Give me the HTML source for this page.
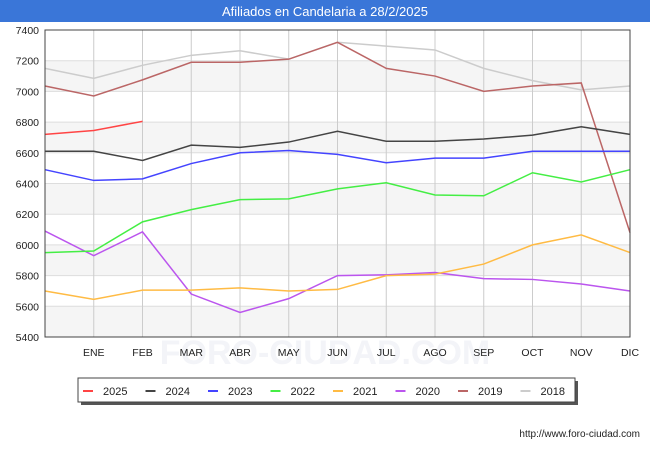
<!DOCTYPE html>
<html><head><meta charset="utf-8"><style>
body{margin:0;background:#fff;font-family:"Liberation Sans",sans-serif}
svg text{font-family:"Liberation Sans",sans-serif}
</style></head><body>
<svg width="650" height="450" id="chart">
<rect x="0" y="0" width="650" height="22" fill="#3a76d8"/>
<text x="325" y="16" text-anchor="middle" fill="#fff" font-size="13">Afiliados en Candelaria a 28/2/2025</text>
<g id="plot"></g>
<text x="640" y="437" text-anchor="end" font-size="10" fill="#222">http://www.foro-ciudad.com</text>
</svg>
<script>
const months=["","ENE","FEB","MAR","ABR","MAY","JUN","JUL","AGO","SEP","OCT","NOV","DIC"];
const yTicks=[5400,5600,5800,6000,6200,6400,6600,6800,7000,7200,7400];
const seriesNames=["2025","2024","2023","2022","2021","2020","2019","2018"];
const colors=["#ff4444","#444444","#4444ff","#44ee44","#ffbb44","#bb55ee","#bb6666","#cccccc"];
const s2025=[6720,6745,6805];
const s2024=[6610,6610,6550,6650,6635,6670,6740,6675,6675,6690,6715,6770,6720];
const s2023=[6490,6420,6430,6530,6600,6615,6590,6535,6565,6565,6610,6610,6610];
const s2022=[5950,5960,6150,6230,6295,6300,6365,6405,6325,6320,6470,6410,6490];
const s2021=[5700,5645,5705,5705,5720,5700,5710,5800,5810,5875,6000,6065,5950];
const s2020=[6090,5930,6085,5680,5560,5650,5800,5805,5820,5780,5775,5745,5700];
const s2019=[7035,6970,7075,7190,7190,7210,7320,7150,7100,7000,7035,7055,6080];
const s2018=[7150,7085,7170,7235,7265,7210,7320,7295,7270,7150,7070,7010,7035];
const allSeries=[s2025,s2024,s2023,s2022,s2021,s2020,s2019,s2018];
const X0=45,X1=630,Y0=30,Y1=337,yMin=5400,yMax=7400;
const x=i=>X0+i*(X1-X0)/12;
const y=v=>Y1-(v-yMin)/(yMax-yMin)*(Y1-Y0);
const NS="http://www.w3.org/2000/svg";
const g=document.getElementById('plot');
function mk(t,a){const e=document.createElementNS(NS,t);for(const k in a)e.setAttribute(k,a[k]);g.appendChild(e);return e;}
const wm=mk('text',{x:325,y:364,'text-anchor':'middle','font-size':34,fill:'#f3f4f8','font-weight':'bold'});wm.textContent='FORO-CIUDAD.COM';


for(let i=0;i<yTicks.length-1;i+=2){
 const r=mk('rect',{x:X0,y:y(yTicks[i+1]),width:X1-X0,height:y(yTicks[i])-y(yTicks[i+1]),fill:'#f5f5f5'});
 
 
}
yTicks.forEach(v=>{
 const l=mk('line',{x1:X0,x2:X1,y1:y(v),y2:y(v),stroke:'#ddd'});
 
 
 const t=mk('text',{x:X0-6,y:y(v)+4,'text-anchor':'end','font-size':10.5,fill:'#222'});t.textContent=v;
 
 
});
months.forEach((m,i)=>{
 if(!m)return;
 const l=mk('line',{x1:x(i),x2:x(i),y1:Y0,y2:Y1,stroke:'#ccc'});
 
 
 const t=mk('text',{x:x(i),y:Y1+19,'text-anchor':'middle','font-size':10.5,fill:'#222'});t.textContent=m;
 
 
});
for(let s=allSeries.length-1;s>=0;s--){
 const p=mk('polyline',{points:allSeries[s].map((v,i)=>x(i)+','+y(v)).join(' '),fill:'none',stroke:colors[s],'stroke-width':1.5});
 
 
}
const b=mk('rect',{x:X0,y:Y0,width:X1-X0,height:Y1-Y0,fill:'none',stroke:'#444'});


const sh=mk('rect',{x:81,y:381,width:497,height:24,fill:'#555'});


const lb=mk('rect',{x:78,y:378,width:497,height:24,fill:'#fff',stroke:'#444'});


seriesNames.forEach((n,i)=>{
 const lx=83+i*62.5;
 const l=mk('line',{x1:lx,x2:lx+10,y1:391,y2:391,stroke:colors[i],'stroke-width':2});
 
 
 const t=mk('text',{x:lx+20,y:395,'font-size':11,fill:'#222'});t.textContent=n;
 
 
});
</script>
</body></html>
